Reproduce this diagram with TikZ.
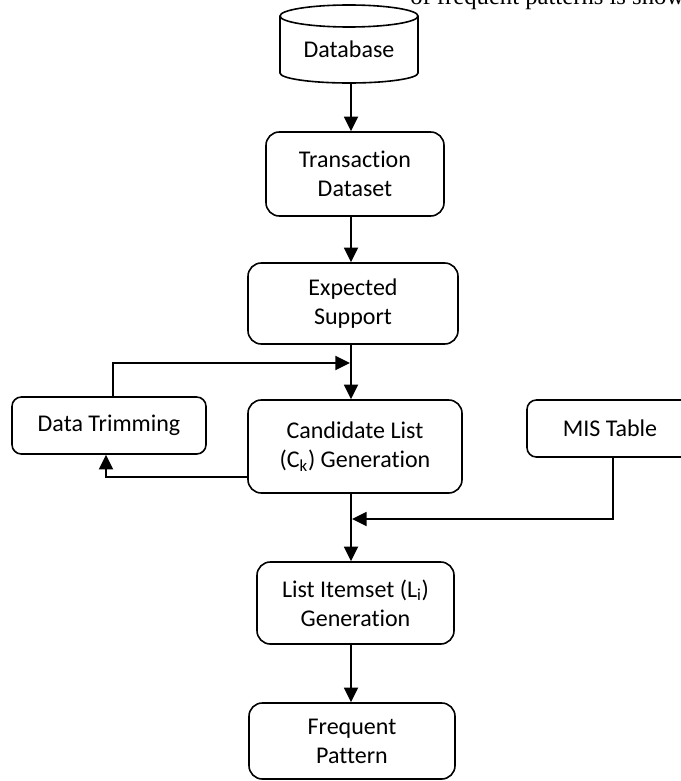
\documentclass[tikz,border=0pt]{standalone}
\usepackage{fontspec}
\setmainfont{Carlito}[Ligatures=NoCommon]
\newfontfamily\serifbody{Liberation Serif}
\usetikzlibrary{arrows.meta}
\begin{document}
\begin{tikzpicture}[x=0.75pt,y=-0.75pt,
  box/.style={draw, line width=1.2pt, rounded corners=10pt, align=center, inner sep=0pt,
    font=\fontsize{18}{21.75}\selectfont},
  sbox/.style={box, rounded corners=7pt},
  arr/.style={line width=1.4pt, -{Triangle[length=11pt,width=10.5pt]}},
  lbl/.style={inner sep=0pt, font=\fontsize{18}{21.75}\selectfont}]
\useasboundingbox (0,0) rectangle (681,781);
\clip (0,0) rectangle (681,781);

% caption fragment at top
\node[anchor=base west, inner sep=0pt, font=\serifbody\fontsize{18.5}{20}\selectfont] (cap) at (410,5) {of frequent patterns is shown};

% database cylinder
\draw[line width=1.2pt, fill=white] (280,16) -- (280,73) arc[start angle=180, end angle=0, x radius=69, y radius=10] -- (418,16);
\draw[line width=1.2pt] (349,16) ellipse [x radius=69, y radius=11];
\node[lbl] (dbt) at (349,49) {Database};
\coordinate (dbb) at (351,83);
\coordinate (sp) at (351,0);

\node[box, minimum width=133.5pt, minimum height=63pt] (trans) at (355,174) {Transaction\\Dataset};
\node[box, minimum width=157.5pt, minimum height=60.75pt] (exp) at (353,303.5) {Expected\\Support};
\node[box, minimum width=160.5pt, minimum height=69.75pt] (cand) at (355,446.5) {Candidate List\\(C\textsubscript{k}) Generation};
\node[box, minimum width=147.75pt, minimum height=61.5pt] (list) at (355.5,603) {List Itemset (L\textsubscript{i})\\Generation};
\node[box, minimum width=154.5pt, minimum height=57pt] (freq) at (352,741) {Frequent\\Pattern};
\node[sbox, minimum width=145.5pt, minimum height=42.75pt] (dt) at (109,425.5) {Data Trimming};
\node[sbox, minimum width=129pt, minimum height=42.75pt] (mis) at (613,428.5) {};
\node[lbl] (mist) at (610,428) {MIS Table};

% connectors
\draw[arr] (dbb) -- (trans.north -| dbb);
\draw[arr] (trans.south -| sp) -- (exp.north -| sp);
\draw[arr] (exp.south -| sp) -- (cand.north -| sp);
\draw[arr] (cand.south -| sp) -- (list.north -| sp);
\draw[arr] (list.south -| sp) -- (freq.north -| sp);

\coordinate (j1) at (350,363);
\draw[arr] ([xshift=3pt]dt.north) |- (j1);

\coordinate (b1) at (0,477);
\draw[arr] (cand.west |- b1) -| ([xshift=-2.25pt]dt.south);

\coordinate (j2) at (352,519);
\draw[arr] (mis.south) |- (j2);
\end{tikzpicture}
\end{document}
